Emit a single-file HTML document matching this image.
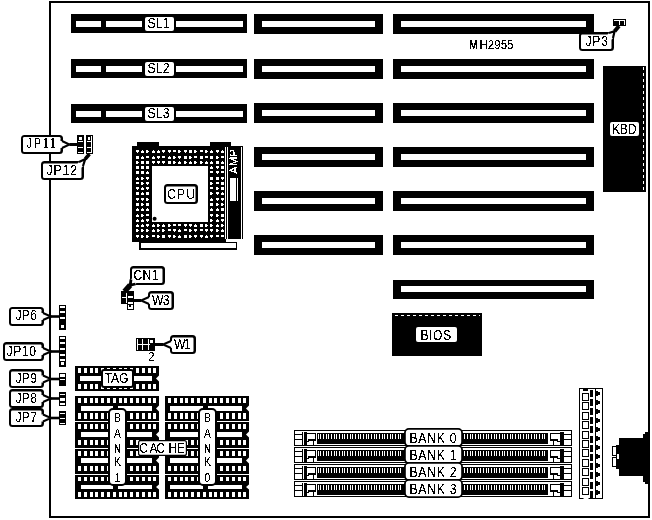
<!DOCTYPE html>
<html><head><meta charset="utf-8"><title>MH2955</title>
<style>
html,body{margin:0;padding:0;background:#fff;}
body{width:652px;height:520px;overflow:hidden;}
svg{display:block;will-change:transform;}
text{font-family:"Liberation Sans",sans-serif;filter:url(#bin);}
</style></head><body>
<svg width="652" height="520" viewBox="0 0 652 520" shape-rendering="crispEdges">
<defs><filter id="bin" x="-5%" y="-20%" width="110%" height="140%" color-interpolation-filters="sRGB"><feComponentTransfer><feFuncA type="discrete" tableValues="0 0 0 0 1 1 1 1 1"/></feComponentTransfer></filter></defs>
<rect x="0" y="0" width="652" height="520" fill="#fff"/>
<rect x="50" y="2" width="599" height="515" fill="#fff" stroke="#000" stroke-width="2"/>
<rect x="71" y="14" width="176" height="19" fill="#000"/>
<rect x="76" y="21" width="25" height="6" fill="#fff"/>
<rect x="106" y="21" width="36" height="6" fill="#fff"/>
<rect x="176" y="21" width="67" height="6" fill="#fff"/>
<rect x="145" y="17" width="29" height="14" rx="2" fill="#fff" shape-rendering="auto"/>
<text transform="translate(147.5 28) scale(0.84 1)" font-size="14.5" fill="#000" textLength="26.19" lengthAdjust="spacing">SL1</text>
<rect x="71" y="59" width="176" height="19" fill="#000"/>
<rect x="76" y="66" width="25" height="6" fill="#fff"/>
<rect x="106" y="66" width="36" height="6" fill="#fff"/>
<rect x="176" y="66" width="67" height="6" fill="#fff"/>
<rect x="145" y="62" width="29" height="14" rx="2" fill="#fff" shape-rendering="auto"/>
<text transform="translate(147.5 73) scale(0.84 1)" font-size="14.5" fill="#000" textLength="26.19" lengthAdjust="spacing">SL2</text>
<rect x="71" y="104" width="176" height="19" fill="#000"/>
<rect x="76" y="111" width="25" height="6" fill="#fff"/>
<rect x="106" y="111" width="36" height="6" fill="#fff"/>
<rect x="176" y="111" width="67" height="6" fill="#fff"/>
<rect x="145" y="107" width="29" height="14" rx="2" fill="#fff" shape-rendering="auto"/>
<text transform="translate(147.5 118) scale(0.84 1)" font-size="14.5" fill="#000" textLength="26.19" lengthAdjust="spacing">SL3</text>
<rect x="254" y="14" width="129" height="20" fill="#000"/>
<rect x="262" y="21" width="113" height="6" fill="#fff"/>
<rect x="254" y="59" width="129" height="20" fill="#000"/>
<rect x="262" y="66" width="113" height="6" fill="#fff"/>
<rect x="254" y="103" width="129" height="20" fill="#000"/>
<rect x="262" y="110" width="113" height="6" fill="#fff"/>
<rect x="254" y="147" width="129" height="20" fill="#000"/>
<rect x="262" y="154" width="113" height="6" fill="#fff"/>
<rect x="254" y="191" width="129" height="20" fill="#000"/>
<rect x="262" y="198" width="113" height="6" fill="#fff"/>
<rect x="254" y="235" width="129" height="20" fill="#000"/>
<rect x="262" y="242" width="113" height="6" fill="#fff"/>
<rect x="393" y="14" width="201" height="20" fill="#000"/>
<rect x="401" y="21" width="185" height="6" fill="#fff"/>
<rect x="393" y="59" width="201" height="20" fill="#000"/>
<rect x="401" y="66" width="185" height="6" fill="#fff"/>
<rect x="393" y="103" width="201" height="20" fill="#000"/>
<rect x="401" y="110" width="185" height="6" fill="#fff"/>
<rect x="393" y="147" width="201" height="20" fill="#000"/>
<rect x="401" y="154" width="185" height="6" fill="#fff"/>
<rect x="393" y="191" width="201" height="20" fill="#000"/>
<rect x="401" y="198" width="185" height="6" fill="#fff"/>
<rect x="393" y="235" width="201" height="20" fill="#000"/>
<rect x="401" y="242" width="185" height="6" fill="#fff"/>
<rect x="393" y="280" width="201" height="19" fill="#000"/>
<rect x="401" y="286" width="185" height="6" fill="#fff"/>
<text transform="translate(469.5 49) scale(0.78 1)" font-size="12.5" fill="#000" stroke="#000" stroke-width="0.4">M</text>
<text transform="translate(479.5 49) scale(0.92 1)" font-size="12.5" fill="#000" textLength="36.96" lengthAdjust="spacing">H2955</text>
<rect x="613" y="19" width="13" height="7" fill="#000"/>
<rect x="614" y="20" width="11" height="1" fill="#fff"/>
<rect x="619" y="20" width="1" height="5" fill="#fff"/>
<rect x="624" y="20" width="1" height="5" fill="#fff"/>
<rect x="579" y="32" width="35" height="19" rx="3.5" fill="#000" shape-rendering="auto"/>
<rect x="581" y="34.5" width="30.5" height="14.5" rx="1.2" fill="#fff" shape-rendering="auto"/>
<text transform="translate(585.5 46) scale(0.84 1)" font-size="14.5" fill="#000" textLength="26.79" lengthAdjust="spacing">JP3</text>
<path d="M608 31.5 L614.5 31.5 L614.5 38.5 Z" fill="#fff" shape-rendering="auto"/>
<path d="M607.454 34.8358 L609 33 L614.6 31.225 L613 38 L611.454 39.8358 Z" fill="#fff" shape-rendering="auto"/>
<path d="M609 33 L614.6 31.225 L613 38" fill="none" stroke="#000" stroke-width="2.2" stroke-linejoin="miter" shape-rendering="auto"/>
<path d="M614.6 31.225 L619 26" fill="none" stroke="#000" stroke-width="4" shape-rendering="auto"/>
<rect x="603" y="66" width="43" height="126" fill="#000"/>
<line x1="643.5" y1="67" x2="643.5" y2="191" stroke="#fff" stroke-width="1" stroke-dasharray="3 3"/>
<rect x="610" y="122" width="29" height="14" rx="2" fill="#fff" shape-rendering="auto"/>
<text transform="translate(612 134) scale(0.84 1)" font-size="14.5" fill="#000" textLength="29.17" lengthAdjust="spacing">KBD</text>
<rect x="137" y="142" width="22" height="5" fill="#000"/>
<rect x="210" y="142" width="21" height="5" fill="#000"/>
<rect x="132" y="146" width="94" height="96" fill="#000"/>
<rect x="226" y="146" width="17" height="93" fill="#000"/>
<rect x="225" y="147" width="1" height="92" fill="#fff"/>
<rect x="227" y="147" width="1" height="92" fill="#fff"/>
<rect x="241" y="147" width="1" height="92" fill="#fff"/>
<rect x="152" y="166" width="56" height="56" fill="#fff"/>
<rect x="136" y="150" width="3" height="2" fill="#fff"/>
<rect x="137" y="152" width="1" height="1" fill="#fff"/>
<rect x="141" y="151" width="3" height="2" fill="#fff"/>
<rect x="142" y="150" width="1" height="1" fill="#fff"/>
<rect x="146" y="150" width="2" height="3" fill="#fff"/>
<rect x="148" y="151" width="1" height="1" fill="#fff"/>
<rect x="152" y="151" width="3" height="2" fill="#fff"/>
<rect x="153" y="150" width="1" height="1" fill="#fff"/>
<rect x="157" y="151" width="3" height="2" fill="#fff"/>
<rect x="158" y="150" width="1" height="1" fill="#fff"/>
<rect x="162" y="150" width="3" height="2" fill="#fff"/>
<rect x="163" y="152" width="1" height="1" fill="#fff"/>
<rect x="168" y="150" width="3" height="2" fill="#fff"/>
<rect x="169" y="152" width="1" height="1" fill="#fff"/>
<rect x="173" y="150" width="3" height="2" fill="#fff"/>
<rect x="178" y="150" width="2" height="3" fill="#fff"/>
<rect x="180" y="151" width="1" height="1" fill="#fff"/>
<rect x="184" y="150" width="3" height="2" fill="#fff"/>
<rect x="185" y="152" width="1" height="1" fill="#fff"/>
<rect x="189" y="150" width="2.5" height="2.5" fill="#fff"/>
<rect x="194" y="150" width="2" height="3" fill="#fff"/>
<rect x="196" y="151" width="1" height="1" fill="#fff"/>
<rect x="200" y="150" width="3" height="2" fill="#fff"/>
<rect x="205" y="150" width="2" height="3" fill="#fff"/>
<rect x="207" y="151" width="1" height="1" fill="#fff"/>
<rect x="210" y="151" width="3" height="2" fill="#fff"/>
<rect x="211" y="150" width="1" height="1" fill="#fff"/>
<rect x="216" y="150" width="3" height="2" fill="#fff"/>
<rect x="217" y="152" width="1" height="1" fill="#fff"/>
<rect x="221" y="151" width="3" height="2" fill="#fff"/>
<rect x="222" y="150" width="1" height="1" fill="#fff"/>
<rect x="136" y="156" width="2.5" height="2.5" fill="#fff"/>
<rect x="141" y="157" width="3" height="2" fill="#fff"/>
<rect x="142" y="156" width="1" height="1" fill="#fff"/>
<rect x="146" y="156" width="3" height="2" fill="#fff"/>
<rect x="152" y="157" width="3" height="2" fill="#fff"/>
<rect x="153" y="156" width="1" height="1" fill="#fff"/>
<rect x="157" y="156" width="3" height="2" fill="#fff"/>
<rect x="158" y="158" width="1" height="1" fill="#fff"/>
<rect x="162" y="156" width="3" height="2" fill="#fff"/>
<rect x="168" y="157" width="3" height="2" fill="#fff"/>
<rect x="169" y="156" width="1" height="1" fill="#fff"/>
<rect x="173" y="156" width="2" height="3" fill="#fff"/>
<rect x="175" y="157" width="1" height="1" fill="#fff"/>
<rect x="178" y="156" width="3" height="2" fill="#fff"/>
<rect x="179" y="158" width="1" height="1" fill="#fff"/>
<rect x="184" y="156" width="2.5" height="2.5" fill="#fff"/>
<rect x="189" y="156" width="2" height="3" fill="#fff"/>
<rect x="191" y="157" width="1" height="1" fill="#fff"/>
<rect x="194" y="156" width="3" height="2" fill="#fff"/>
<rect x="200" y="156" width="2.5" height="2.5" fill="#fff"/>
<rect x="205" y="156" width="3" height="2" fill="#fff"/>
<rect x="210" y="156" width="2.5" height="2.5" fill="#fff"/>
<rect x="216" y="156" width="2" height="3" fill="#fff"/>
<rect x="218" y="157" width="1" height="1" fill="#fff"/>
<rect x="221" y="156" width="3" height="2" fill="#fff"/>
<rect x="136" y="161" width="2" height="3" fill="#fff"/>
<rect x="138" y="162" width="1" height="1" fill="#fff"/>
<rect x="141" y="161" width="2.5" height="2.5" fill="#fff"/>
<rect x="146" y="161" width="2.5" height="2.5" fill="#fff"/>
<rect x="152" y="161" width="3" height="2" fill="#fff"/>
<rect x="153" y="163" width="1" height="1" fill="#fff"/>
<rect x="157" y="161" width="3" height="2" fill="#fff"/>
<rect x="158" y="163" width="1" height="1" fill="#fff"/>
<rect x="162" y="161" width="3" height="2" fill="#fff"/>
<rect x="163" y="163" width="1" height="1" fill="#fff"/>
<rect x="168" y="161" width="2.5" height="2.5" fill="#fff"/>
<rect x="173" y="161" width="2" height="3" fill="#fff"/>
<rect x="175" y="162" width="1" height="1" fill="#fff"/>
<rect x="178" y="162" width="3" height="2" fill="#fff"/>
<rect x="179" y="161" width="1" height="1" fill="#fff"/>
<rect x="184" y="161" width="2" height="3" fill="#fff"/>
<rect x="186" y="162" width="1" height="1" fill="#fff"/>
<rect x="189" y="162" width="3" height="2" fill="#fff"/>
<rect x="190" y="161" width="1" height="1" fill="#fff"/>
<rect x="194" y="161" width="2" height="3" fill="#fff"/>
<rect x="196" y="162" width="1" height="1" fill="#fff"/>
<rect x="200" y="161" width="2" height="3" fill="#fff"/>
<rect x="202" y="162" width="1" height="1" fill="#fff"/>
<rect x="205" y="162" width="3" height="2" fill="#fff"/>
<rect x="206" y="161" width="1" height="1" fill="#fff"/>
<rect x="210" y="162" width="3" height="2" fill="#fff"/>
<rect x="211" y="161" width="1" height="1" fill="#fff"/>
<rect x="216" y="161" width="2.5" height="2.5" fill="#fff"/>
<rect x="221" y="162" width="3" height="2" fill="#fff"/>
<rect x="222" y="161" width="1" height="1" fill="#fff"/>
<rect x="136" y="166" width="2.5" height="2.5" fill="#fff"/>
<rect x="141" y="166" width="2.5" height="2.5" fill="#fff"/>
<rect x="146" y="166" width="2.5" height="2.5" fill="#fff"/>
<rect x="210" y="167" width="3" height="2" fill="#fff"/>
<rect x="211" y="166" width="1" height="1" fill="#fff"/>
<rect x="216" y="166" width="3" height="2" fill="#fff"/>
<rect x="217" y="168" width="1" height="1" fill="#fff"/>
<rect x="221" y="166" width="2.5" height="2.5" fill="#fff"/>
<rect x="136" y="171" width="2.5" height="2.5" fill="#fff"/>
<rect x="141" y="171" width="2.5" height="2.5" fill="#fff"/>
<rect x="146" y="172" width="3" height="2" fill="#fff"/>
<rect x="147" y="171" width="1" height="1" fill="#fff"/>
<rect x="210" y="171" width="3" height="2" fill="#fff"/>
<rect x="216" y="171" width="3" height="2" fill="#fff"/>
<rect x="217" y="173" width="1" height="1" fill="#fff"/>
<rect x="221" y="171" width="3" height="2" fill="#fff"/>
<rect x="136" y="178" width="3" height="2" fill="#fff"/>
<rect x="137" y="177" width="1" height="1" fill="#fff"/>
<rect x="141" y="177" width="2" height="3" fill="#fff"/>
<rect x="143" y="178" width="1" height="1" fill="#fff"/>
<rect x="146" y="177" width="3" height="2" fill="#fff"/>
<rect x="147" y="179" width="1" height="1" fill="#fff"/>
<rect x="210" y="177" width="2.5" height="2.5" fill="#fff"/>
<rect x="216" y="177" width="2.5" height="2.5" fill="#fff"/>
<rect x="221" y="177" width="3" height="2" fill="#fff"/>
<rect x="222" y="179" width="1" height="1" fill="#fff"/>
<rect x="136" y="182" width="3" height="2" fill="#fff"/>
<rect x="141" y="182" width="2" height="3" fill="#fff"/>
<rect x="143" y="183" width="1" height="1" fill="#fff"/>
<rect x="146" y="182" width="3" height="2" fill="#fff"/>
<rect x="147" y="184" width="1" height="1" fill="#fff"/>
<rect x="210" y="182" width="2" height="3" fill="#fff"/>
<rect x="212" y="183" width="1" height="1" fill="#fff"/>
<rect x="216" y="182" width="3" height="2" fill="#fff"/>
<rect x="221" y="182" width="2.5" height="2.5" fill="#fff"/>
<rect x="136" y="187" width="3" height="2" fill="#fff"/>
<rect x="137" y="189" width="1" height="1" fill="#fff"/>
<rect x="141" y="188" width="3" height="2" fill="#fff"/>
<rect x="142" y="187" width="1" height="1" fill="#fff"/>
<rect x="146" y="187" width="3" height="2" fill="#fff"/>
<rect x="147" y="189" width="1" height="1" fill="#fff"/>
<rect x="210" y="187" width="3" height="2" fill="#fff"/>
<rect x="216" y="187" width="2" height="3" fill="#fff"/>
<rect x="218" y="188" width="1" height="1" fill="#fff"/>
<rect x="221" y="187" width="2.5" height="2.5" fill="#fff"/>
<rect x="136" y="192" width="2.5" height="2.5" fill="#fff"/>
<rect x="141" y="193" width="3" height="2" fill="#fff"/>
<rect x="142" y="192" width="1" height="1" fill="#fff"/>
<rect x="146" y="192" width="2.5" height="2.5" fill="#fff"/>
<rect x="210" y="192" width="2" height="3" fill="#fff"/>
<rect x="212" y="193" width="1" height="1" fill="#fff"/>
<rect x="216" y="192" width="3" height="2" fill="#fff"/>
<rect x="217" y="194" width="1" height="1" fill="#fff"/>
<rect x="221" y="193" width="3" height="2" fill="#fff"/>
<rect x="222" y="192" width="1" height="1" fill="#fff"/>
<rect x="136" y="198" width="3" height="2" fill="#fff"/>
<rect x="137" y="200" width="1" height="1" fill="#fff"/>
<rect x="141" y="198" width="3" height="2" fill="#fff"/>
<rect x="142" y="200" width="1" height="1" fill="#fff"/>
<rect x="146" y="198" width="2" height="3" fill="#fff"/>
<rect x="148" y="199" width="1" height="1" fill="#fff"/>
<rect x="210" y="199" width="3" height="2" fill="#fff"/>
<rect x="211" y="198" width="1" height="1" fill="#fff"/>
<rect x="216" y="198" width="3" height="2" fill="#fff"/>
<rect x="217" y="200" width="1" height="1" fill="#fff"/>
<rect x="221" y="198" width="3" height="2" fill="#fff"/>
<rect x="222" y="200" width="1" height="1" fill="#fff"/>
<rect x="136" y="203" width="2.5" height="2.5" fill="#fff"/>
<rect x="141" y="203" width="2" height="3" fill="#fff"/>
<rect x="143" y="204" width="1" height="1" fill="#fff"/>
<rect x="146" y="203" width="2.5" height="2.5" fill="#fff"/>
<rect x="210" y="203" width="2.5" height="2.5" fill="#fff"/>
<rect x="216" y="203" width="2" height="3" fill="#fff"/>
<rect x="218" y="204" width="1" height="1" fill="#fff"/>
<rect x="221" y="203" width="2" height="3" fill="#fff"/>
<rect x="223" y="204" width="1" height="1" fill="#fff"/>
<rect x="136" y="209" width="3" height="2" fill="#fff"/>
<rect x="137" y="208" width="1" height="1" fill="#fff"/>
<rect x="141" y="209" width="3" height="2" fill="#fff"/>
<rect x="142" y="208" width="1" height="1" fill="#fff"/>
<rect x="146" y="209" width="3" height="2" fill="#fff"/>
<rect x="147" y="208" width="1" height="1" fill="#fff"/>
<rect x="210" y="209" width="3" height="2" fill="#fff"/>
<rect x="211" y="208" width="1" height="1" fill="#fff"/>
<rect x="216" y="209" width="3" height="2" fill="#fff"/>
<rect x="217" y="208" width="1" height="1" fill="#fff"/>
<rect x="221" y="208" width="2.5" height="2.5" fill="#fff"/>
<rect x="136" y="215" width="3" height="2" fill="#fff"/>
<rect x="137" y="214" width="1" height="1" fill="#fff"/>
<rect x="141" y="214" width="2" height="3" fill="#fff"/>
<rect x="143" y="215" width="1" height="1" fill="#fff"/>
<rect x="146" y="214" width="3" height="2" fill="#fff"/>
<rect x="210" y="214" width="3" height="2" fill="#fff"/>
<rect x="211" y="216" width="1" height="1" fill="#fff"/>
<rect x="216" y="214" width="2" height="3" fill="#fff"/>
<rect x="218" y="215" width="1" height="1" fill="#fff"/>
<rect x="221" y="214" width="2.5" height="2.5" fill="#fff"/>
<rect x="136" y="220" width="3" height="2" fill="#fff"/>
<rect x="137" y="219" width="1" height="1" fill="#fff"/>
<rect x="141" y="220" width="3" height="2" fill="#fff"/>
<rect x="142" y="219" width="1" height="1" fill="#fff"/>
<rect x="146" y="219" width="3" height="2" fill="#fff"/>
<rect x="147" y="221" width="1" height="1" fill="#fff"/>
<rect x="210" y="219" width="2" height="3" fill="#fff"/>
<rect x="212" y="220" width="1" height="1" fill="#fff"/>
<rect x="216" y="220" width="3" height="2" fill="#fff"/>
<rect x="217" y="219" width="1" height="1" fill="#fff"/>
<rect x="221" y="219" width="3" height="2" fill="#fff"/>
<rect x="222" y="221" width="1" height="1" fill="#fff"/>
<rect x="136" y="225" width="3" height="2" fill="#fff"/>
<rect x="137" y="224" width="1" height="1" fill="#fff"/>
<rect x="141" y="225" width="3" height="2" fill="#fff"/>
<rect x="142" y="224" width="1" height="1" fill="#fff"/>
<rect x="146" y="224" width="3" height="2" fill="#fff"/>
<rect x="147" y="226" width="1" height="1" fill="#fff"/>
<rect x="152" y="225" width="3" height="2" fill="#fff"/>
<rect x="153" y="224" width="1" height="1" fill="#fff"/>
<rect x="157" y="224" width="2" height="3" fill="#fff"/>
<rect x="159" y="225" width="1" height="1" fill="#fff"/>
<rect x="162" y="225" width="3" height="2" fill="#fff"/>
<rect x="163" y="224" width="1" height="1" fill="#fff"/>
<rect x="168" y="224" width="2" height="3" fill="#fff"/>
<rect x="170" y="225" width="1" height="1" fill="#fff"/>
<rect x="173" y="224" width="3" height="2" fill="#fff"/>
<rect x="178" y="224" width="3" height="2" fill="#fff"/>
<rect x="184" y="224" width="3" height="2" fill="#fff"/>
<rect x="185" y="226" width="1" height="1" fill="#fff"/>
<rect x="189" y="224" width="3" height="2" fill="#fff"/>
<rect x="190" y="226" width="1" height="1" fill="#fff"/>
<rect x="194" y="225" width="3" height="2" fill="#fff"/>
<rect x="195" y="224" width="1" height="1" fill="#fff"/>
<rect x="200" y="224" width="2.5" height="2.5" fill="#fff"/>
<rect x="205" y="224" width="2" height="3" fill="#fff"/>
<rect x="207" y="225" width="1" height="1" fill="#fff"/>
<rect x="210" y="224" width="2" height="3" fill="#fff"/>
<rect x="212" y="225" width="1" height="1" fill="#fff"/>
<rect x="216" y="225" width="3" height="2" fill="#fff"/>
<rect x="217" y="224" width="1" height="1" fill="#fff"/>
<rect x="221" y="224" width="2" height="3" fill="#fff"/>
<rect x="223" y="225" width="1" height="1" fill="#fff"/>
<rect x="136" y="229" width="2" height="3" fill="#fff"/>
<rect x="138" y="230" width="1" height="1" fill="#fff"/>
<rect x="141" y="229" width="2" height="3" fill="#fff"/>
<rect x="143" y="230" width="1" height="1" fill="#fff"/>
<rect x="146" y="229" width="2" height="3" fill="#fff"/>
<rect x="148" y="230" width="1" height="1" fill="#fff"/>
<rect x="152" y="230" width="3" height="2" fill="#fff"/>
<rect x="153" y="229" width="1" height="1" fill="#fff"/>
<rect x="157" y="229" width="2" height="3" fill="#fff"/>
<rect x="159" y="230" width="1" height="1" fill="#fff"/>
<rect x="162" y="229" width="2" height="3" fill="#fff"/>
<rect x="164" y="230" width="1" height="1" fill="#fff"/>
<rect x="168" y="229" width="3" height="2" fill="#fff"/>
<rect x="173" y="229" width="3" height="2" fill="#fff"/>
<rect x="174" y="231" width="1" height="1" fill="#fff"/>
<rect x="178" y="230" width="3" height="2" fill="#fff"/>
<rect x="179" y="229" width="1" height="1" fill="#fff"/>
<rect x="184" y="229" width="3" height="2" fill="#fff"/>
<rect x="189" y="229" width="2" height="3" fill="#fff"/>
<rect x="191" y="230" width="1" height="1" fill="#fff"/>
<rect x="194" y="229" width="3" height="2" fill="#fff"/>
<rect x="195" y="231" width="1" height="1" fill="#fff"/>
<rect x="200" y="229" width="3" height="2" fill="#fff"/>
<rect x="205" y="229" width="3" height="2" fill="#fff"/>
<rect x="206" y="231" width="1" height="1" fill="#fff"/>
<rect x="210" y="229" width="3" height="2" fill="#fff"/>
<rect x="211" y="231" width="1" height="1" fill="#fff"/>
<rect x="216" y="229" width="2" height="3" fill="#fff"/>
<rect x="218" y="230" width="1" height="1" fill="#fff"/>
<rect x="221" y="230" width="3" height="2" fill="#fff"/>
<rect x="222" y="229" width="1" height="1" fill="#fff"/>
<rect x="136" y="235" width="3" height="2" fill="#fff"/>
<rect x="137" y="237" width="1" height="1" fill="#fff"/>
<rect x="141" y="235" width="2" height="3" fill="#fff"/>
<rect x="143" y="236" width="1" height="1" fill="#fff"/>
<rect x="146" y="235" width="2" height="3" fill="#fff"/>
<rect x="148" y="236" width="1" height="1" fill="#fff"/>
<rect x="152" y="235" width="3" height="2" fill="#fff"/>
<rect x="157" y="235" width="2" height="3" fill="#fff"/>
<rect x="159" y="236" width="1" height="1" fill="#fff"/>
<rect x="162" y="235" width="2.5" height="2.5" fill="#fff"/>
<rect x="168" y="235" width="3" height="2" fill="#fff"/>
<rect x="169" y="237" width="1" height="1" fill="#fff"/>
<rect x="173" y="235" width="2" height="3" fill="#fff"/>
<rect x="175" y="236" width="1" height="1" fill="#fff"/>
<rect x="178" y="236" width="3" height="2" fill="#fff"/>
<rect x="179" y="235" width="1" height="1" fill="#fff"/>
<rect x="184" y="235" width="2.5" height="2.5" fill="#fff"/>
<rect x="189" y="235" width="2" height="3" fill="#fff"/>
<rect x="191" y="236" width="1" height="1" fill="#fff"/>
<rect x="194" y="235" width="3" height="2" fill="#fff"/>
<rect x="195" y="237" width="1" height="1" fill="#fff"/>
<rect x="200" y="235" width="3" height="2" fill="#fff"/>
<rect x="201" y="237" width="1" height="1" fill="#fff"/>
<rect x="205" y="236" width="3" height="2" fill="#fff"/>
<rect x="206" y="235" width="1" height="1" fill="#fff"/>
<rect x="210" y="235" width="3" height="2" fill="#fff"/>
<rect x="211" y="237" width="1" height="1" fill="#fff"/>
<rect x="216" y="235" width="3" height="2" fill="#fff"/>
<rect x="221" y="235" width="3" height="2" fill="#fff"/>
<circle cx="154.6" cy="218.7" r="2" fill="#000" shape-rendering="auto"/>
<rect x="230" y="178" width="8" height="23" fill="#fff"/>
<rect x="236" y="178" width="1" height="23" fill="#000"/>
<text transform="translate(237.5,174) rotate(-90)" font-size="10" fill="#fff" style="stroke:none" textLength="25" lengthAdjust="spacingAndGlyphs">AMP</text>
<rect x="139" y="242" width="98" height="8" fill="#000"/>
<rect x="141" y="243" width="95" height="5" fill="#fff"/>
<rect x="164" y="184" width="34" height="20" rx="3.5" fill="#000" shape-rendering="auto"/>
<rect x="166" y="186.5" width="29.5" height="15.5" rx="1.2" fill="#fff" shape-rendering="auto"/>
<text transform="translate(167 199) scale(0.84 1)" font-size="14.5" fill="#000" textLength="33.33" lengthAdjust="spacing">CPU</text>
<rect x="77" y="135" width="7" height="19" fill="#000"/>
<rect x="79" y="137" width="3" height="3" fill="#fff"/>
<rect x="78" y="141" width="5" height="1" fill="#fff"/>
<rect x="78" y="147" width="5" height="1" fill="#fff"/>
<rect x="78" y="152" width="5" height="1" fill="#fff"/>
<rect x="86" y="135" width="7" height="19" fill="#000"/>
<rect x="88" y="137" width="2" height="3" fill="#fff"/>
<rect x="91" y="136" width="1" height="17" fill="#fff"/>
<rect x="87" y="141" width="4" height="1" fill="#fff"/>
<rect x="87" y="147" width="4" height="1" fill="#fff"/>
<rect x="87" y="152" width="5" height="1" fill="#fff"/>
<rect x="21" y="135" width="42" height="19" rx="3.5" fill="#000" shape-rendering="auto"/>
<rect x="23" y="137" width="37.5" height="15" rx="1.2" fill="#fff" shape-rendering="auto"/>
<text transform="translate(26.5 148) scale(0.76 1)" font-size="14.5" fill="#000" textLength="38.82" lengthAdjust="spacing">JP11</text>
<path d="M59.6 141 L62 141 L69.5 144.5 L62 148 L59.6 148 Z" fill="#fff" shape-rendering="auto"/>
<path d="M62 141 L69.5 144.5 L62 148" fill="none" stroke="#000" stroke-width="2" stroke-linejoin="miter" shape-rendering="auto"/>
<path d="M69.5 144.5 L77 144.5" fill="none" stroke="#000" stroke-width="3" shape-rendering="auto"/>
<rect x="41" y="161" width="43" height="19" rx="3.5" fill="#000" shape-rendering="auto"/>
<rect x="43" y="163.5" width="38.5" height="14.5" rx="1.2" fill="#fff" shape-rendering="auto"/>
<text transform="translate(46.5 175) scale(0.84 1)" font-size="14.5" fill="#000" textLength="36.31" lengthAdjust="spacing">JP12</text>
<path d="M78 160.5 L84.5 160.5 L84.5 167 Z" fill="#fff" shape-rendering="auto"/>
<path d="M77.4456 163.829 L79 162 L85.25 159 L83 166 L81.4456 167.829 Z" fill="#fff" shape-rendering="auto"/>
<path d="M79 162 L85.25 159 L83 166" fill="none" stroke="#000" stroke-width="2.2" stroke-linejoin="miter" shape-rendering="auto"/>
<path d="M85.25 159 L89.5 154" fill="none" stroke="#000" stroke-width="3.5" shape-rendering="auto"/>
<rect x="59" y="305" width="7" height="25" fill="#000"/>
<rect x="60" y="306" width="5" height="1.5" fill="#fff"/>
<rect x="60" y="311" width="5" height="2" fill="#fff"/>
<rect x="60" y="317" width="5" height="1.5" fill="#fff"/>
<rect x="61" y="325" width="3" height="3" fill="#fff"/>
<rect x="59" y="336" width="7" height="31" fill="#000"/>
<rect x="60" y="337" width="5" height="1.5" fill="#fff"/>
<rect x="60" y="342" width="5" height="2" fill="#fff"/>
<rect x="60" y="348" width="5" height="1.5" fill="#fff"/>
<rect x="60" y="354" width="5" height="1.5" fill="#fff"/>
<rect x="60" y="359" width="5" height="1.5" fill="#fff"/>
<rect x="61" y="362" width="3" height="3" fill="#fff"/>
<rect x="59" y="373" width="7" height="13" fill="#000"/>
<rect x="60" y="374" width="5" height="2.5" fill="#fff"/>
<rect x="60" y="379" width="5" height="1" fill="#fff"/>
<rect x="59" y="392" width="7" height="14" fill="#000"/>
<rect x="60" y="393.5" width="5" height="1.5" fill="#fff"/>
<rect x="60" y="397.5" width="5" height="3" fill="#fff"/>
<rect x="60" y="403" width="5" height="1.5" fill="#fff"/>
<rect x="59" y="411" width="7" height="14" fill="#000"/>
<rect x="60" y="412.5" width="5" height="1.5" fill="#fff"/>
<rect x="60" y="417.5" width="5" height="1.5" fill="#fff"/>
<rect x="60" y="422.5" width="5" height="1" fill="#fff"/>
<rect x="9" y="307" width="35" height="19" rx="3.5" fill="#000" shape-rendering="auto"/>
<rect x="11" y="309" width="30.5" height="15" rx="1.2" fill="#fff" shape-rendering="auto"/>
<text transform="translate(15.5 320) scale(0.84 1)" font-size="14.5" fill="#000" textLength="25.60" lengthAdjust="spacing">JP6</text>
<path d="M40.6 313 L43 313 L51 316.5 L43 320 L40.6 320 Z" fill="#fff" shape-rendering="auto"/>
<path d="M43 313 L51 316.5 L43 320" fill="none" stroke="#000" stroke-width="2" stroke-linejoin="miter" shape-rendering="auto"/>
<path d="M51 316.5 L59 316.5" fill="none" stroke="#000" stroke-width="2.6" shape-rendering="auto"/>
<rect x="49" y="311.5" width="2" height="10" fill="#000"/>
<rect x="3" y="342" width="41" height="19" rx="3.5" fill="#000" shape-rendering="auto"/>
<rect x="5" y="344.5" width="36.5" height="14.5" rx="1.2" fill="#fff" shape-rendering="auto"/>
<text transform="translate(6.5 355.5) scale(0.84 1)" font-size="14.5" fill="#000" textLength="35.12" lengthAdjust="spacing">JP10</text>
<path d="M40.6 348 L43 348 L51 351.5 L43 355 L40.6 355 Z" fill="#fff" shape-rendering="auto"/>
<path d="M43 348 L51 351.5 L43 355" fill="none" stroke="#000" stroke-width="2" stroke-linejoin="miter" shape-rendering="auto"/>
<path d="M51 351.5 L59 351.5" fill="none" stroke="#000" stroke-width="2.6" shape-rendering="auto"/>
<rect x="49" y="346.5" width="2" height="10" fill="#000"/>
<rect x="9" y="369" width="35" height="19" rx="3.5" fill="#000" shape-rendering="auto"/>
<rect x="11" y="371.5" width="30.5" height="14.5" rx="1.2" fill="#fff" shape-rendering="auto"/>
<text transform="translate(15.5 382.5) scale(0.84 1)" font-size="14.5" fill="#000" textLength="25.60" lengthAdjust="spacing">JP9</text>
<path d="M40.6 375.5 L43 375.5 L51 379 L43 382.5 L40.6 382.5 Z" fill="#fff" shape-rendering="auto"/>
<path d="M43 375.5 L51 379 L43 382.5" fill="none" stroke="#000" stroke-width="2" stroke-linejoin="miter" shape-rendering="auto"/>
<path d="M51 379 L59 379" fill="none" stroke="#000" stroke-width="2.6" shape-rendering="auto"/>
<rect x="49" y="374" width="2" height="10" fill="#000"/>
<rect x="9" y="389" width="35" height="19" rx="3.5" fill="#000" shape-rendering="auto"/>
<rect x="11" y="391.5" width="30.5" height="14.5" rx="1.2" fill="#fff" shape-rendering="auto"/>
<text transform="translate(15.5 402.5) scale(0.84 1)" font-size="14.5" fill="#000" textLength="25.60" lengthAdjust="spacing">JP8</text>
<path d="M40.6 395 L43 395 L51 398.5 L43 402 L40.6 402 Z" fill="#fff" shape-rendering="auto"/>
<path d="M43 395 L51 398.5 L43 402" fill="none" stroke="#000" stroke-width="2" stroke-linejoin="miter" shape-rendering="auto"/>
<path d="M51 398.5 L59 398.5" fill="none" stroke="#000" stroke-width="2.6" shape-rendering="auto"/>
<rect x="49" y="393.5" width="2" height="10" fill="#000"/>
<rect x="9" y="408" width="35" height="19" rx="3.5" fill="#000" shape-rendering="auto"/>
<rect x="11" y="410.5" width="30.5" height="14.5" rx="1.2" fill="#fff" shape-rendering="auto"/>
<text transform="translate(15.5 421.5) scale(0.84 1)" font-size="14.5" fill="#000" textLength="25.60" lengthAdjust="spacing">JP7</text>
<path d="M40.6 414.5 L43 414.5 L51 418 L43 421.5 L40.6 421.5 Z" fill="#fff" shape-rendering="auto"/>
<path d="M43 414.5 L51 418 L43 421.5" fill="none" stroke="#000" stroke-width="2" stroke-linejoin="miter" shape-rendering="auto"/>
<path d="M51 418 L59 418" fill="none" stroke="#000" stroke-width="2.6" shape-rendering="auto"/>
<rect x="49" y="413" width="2" height="10" fill="#000"/>
<rect x="121" y="291" width="7" height="13" fill="#000"/>
<rect x="122" y="297" width="5" height="1" fill="#fff"/>
<rect x="126" y="292" width="1" height="11" fill="#fff"/>
<rect x="127" y="291" width="7" height="19" fill="#000"/>
<rect x="128" y="296" width="4.5" height="2" fill="#fff"/>
<rect x="128" y="302" width="4.5" height="1.6" fill="#fff"/>
<rect x="128" y="304.6" width="4.5" height="4.4" fill="#fff"/>
<rect x="129" y="305.4" width="2.4" height="2" fill="#000"/>
<rect x="130" y="266" width="35" height="19" rx="3.5" fill="#000" shape-rendering="auto"/>
<rect x="132" y="268.5" width="30.5" height="14.5" rx="1.2" fill="#fff" shape-rendering="auto"/>
<text transform="translate(133.5 280) scale(0.84 1)" font-size="14.5" fill="#000" textLength="29.76" lengthAdjust="spacing">CN1</text>
<path d="M129.5 279 L129.5 285.5 L136.5 285.5 Z" fill="#fff" shape-rendering="auto"/>
<path d="M132.603 277.714 L131 279.5 L130.188 285.163 L135.5 284 L137.103 282.214 Z" fill="#fff" shape-rendering="auto"/>
<path d="M131 279.5 L130.188 285.163 L135.5 284" fill="none" stroke="#000" stroke-width="2.8" stroke-linejoin="miter" shape-rendering="auto"/>
<path d="M130.188 285.163 L124.5 291.5" fill="none" stroke="#000" stroke-width="5.5" shape-rendering="auto"/>
<rect x="148" y="291" width="26" height="19" rx="3.5" fill="#000" shape-rendering="auto"/>
<rect x="150" y="293.5" width="21.5" height="14.5" rx="1.2" fill="#fff" shape-rendering="auto"/>
<text transform="translate(152 304.5) scale(0.84 1)" font-size="14.5" fill="#000" textLength="20.83" lengthAdjust="spacing">W3</text>
<path d="M151.4 297 L149 297 L141 300.5 L149 304 L151.4 304 Z" fill="#fff" shape-rendering="auto"/>
<path d="M149 297 L141 300.5 L149 304" fill="none" stroke="#000" stroke-width="2" stroke-linejoin="miter" shape-rendering="auto"/>
<path d="M141 300.5 L133 300.5" fill="none" stroke="#000" stroke-width="3" shape-rendering="auto"/>
<rect x="136" y="338" width="19" height="13" fill="#000"/>
<rect x="137" y="339" width="1" height="11" fill="#fff"/>
<rect x="142" y="339" width="1.4" height="11" fill="#fff"/>
<rect x="148" y="339" width="1" height="11" fill="#fff"/>
<rect x="137" y="344" width="13" height="1" fill="#fff"/>
<rect x="150" y="340" width="3" height="3" fill="#fff"/>
<rect x="170" y="335" width="26" height="19" rx="3.5" fill="#000" shape-rendering="auto"/>
<rect x="172" y="337.5" width="21.5" height="14.5" rx="1.2" fill="#fff" shape-rendering="auto"/>
<text transform="translate(174 349) scale(0.84 1)" font-size="14.5" fill="#000" textLength="19.64" lengthAdjust="spacing">W1</text>
<path d="M173.4 341 L171 341 L163 344.5 L171 348 L173.4 348 Z" fill="#fff" shape-rendering="auto"/>
<path d="M171 341 L163 344.5 L171 348" fill="none" stroke="#000" stroke-width="2" stroke-linejoin="miter" shape-rendering="auto"/>
<path d="M163 344.5 L155 344.5" fill="none" stroke="#000" stroke-width="3" shape-rendering="auto"/>
<text transform="translate(148.5 361) scale(0.84 1)" font-size="12.5" fill="#000">2</text>
<rect x="75" y="366" width="84" height="25" fill="#000"/>
<rect x="78" y="368" width="3" height="5" fill="#fff"/>
<rect x="78" y="384" width="3" height="5" fill="#fff"/>
<rect x="84" y="368" width="3" height="5" fill="#fff"/>
<rect x="84" y="384" width="3" height="5" fill="#fff"/>
<rect x="90" y="368" width="3" height="5" fill="#fff"/>
<rect x="90" y="384" width="3" height="5" fill="#fff"/>
<rect x="95" y="368" width="3" height="5" fill="#fff"/>
<rect x="95" y="384" width="3" height="5" fill="#fff"/>
<rect x="101" y="368" width="3" height="5" fill="#fff"/>
<rect x="101" y="384" width="3" height="5" fill="#fff"/>
<rect x="107" y="368" width="3" height="5" fill="#fff"/>
<rect x="107" y="384" width="3" height="5" fill="#fff"/>
<rect x="113" y="368" width="3" height="5" fill="#fff"/>
<rect x="113" y="384" width="3" height="5" fill="#fff"/>
<rect x="119" y="368" width="3" height="5" fill="#fff"/>
<rect x="119" y="384" width="3" height="5" fill="#fff"/>
<rect x="124" y="368" width="3" height="5" fill="#fff"/>
<rect x="124" y="384" width="3" height="5" fill="#fff"/>
<rect x="130" y="368" width="3" height="5" fill="#fff"/>
<rect x="130" y="384" width="3" height="5" fill="#fff"/>
<rect x="136" y="368" width="3" height="5" fill="#fff"/>
<rect x="136" y="384" width="3" height="5" fill="#fff"/>
<rect x="142" y="368" width="3" height="5" fill="#fff"/>
<rect x="142" y="384" width="3" height="5" fill="#fff"/>
<rect x="148" y="368" width="3" height="5" fill="#fff"/>
<rect x="148" y="384" width="3" height="5" fill="#fff"/>
<rect x="153" y="368" width="3" height="5" fill="#fff"/>
<rect x="153" y="384" width="3" height="5" fill="#fff"/>
<rect x="80" y="376" width="72" height="5" fill="#fff"/>
<path d="M159 375.5 L156 378.5 L159 381.5 Z" fill="#fff" shape-rendering="auto"/>
<rect x="75" y="396" width="84" height="25" fill="#000"/>
<rect x="78" y="398" width="3" height="5" fill="#fff"/>
<rect x="78" y="413" width="3" height="6" fill="#fff"/>
<rect x="84" y="398" width="3" height="5" fill="#fff"/>
<rect x="84" y="413" width="3" height="6" fill="#fff"/>
<rect x="90" y="398" width="3" height="5" fill="#fff"/>
<rect x="90" y="413" width="3" height="6" fill="#fff"/>
<rect x="95" y="398" width="3" height="5" fill="#fff"/>
<rect x="95" y="413" width="3" height="6" fill="#fff"/>
<rect x="101" y="398" width="3" height="5" fill="#fff"/>
<rect x="101" y="413" width="3" height="6" fill="#fff"/>
<rect x="107" y="398" width="3" height="5" fill="#fff"/>
<rect x="107" y="413" width="3" height="6" fill="#fff"/>
<rect x="113" y="398" width="3" height="5" fill="#fff"/>
<rect x="113" y="413" width="3" height="6" fill="#fff"/>
<rect x="119" y="398" width="3" height="5" fill="#fff"/>
<rect x="119" y="413" width="3" height="6" fill="#fff"/>
<rect x="124" y="398" width="3" height="5" fill="#fff"/>
<rect x="124" y="413" width="3" height="6" fill="#fff"/>
<rect x="130" y="398" width="3" height="5" fill="#fff"/>
<rect x="130" y="413" width="3" height="6" fill="#fff"/>
<rect x="136" y="398" width="3" height="5" fill="#fff"/>
<rect x="136" y="413" width="3" height="6" fill="#fff"/>
<rect x="142" y="398" width="3" height="5" fill="#fff"/>
<rect x="142" y="413" width="3" height="6" fill="#fff"/>
<rect x="148" y="398" width="3" height="5" fill="#fff"/>
<rect x="148" y="413" width="3" height="6" fill="#fff"/>
<rect x="153" y="398" width="3" height="5" fill="#fff"/>
<rect x="153" y="413" width="3" height="6" fill="#fff"/>
<rect x="81" y="406" width="71" height="5" fill="#fff"/>
<path d="M159 405.5 L156 408.5 L159 411.5 Z" fill="#fff" shape-rendering="auto"/>
<rect x="165" y="396" width="84" height="25" fill="#000"/>
<rect x="168" y="398" width="3" height="5" fill="#fff"/>
<rect x="168" y="413" width="3" height="6" fill="#fff"/>
<rect x="174" y="398" width="3" height="5" fill="#fff"/>
<rect x="174" y="413" width="3" height="6" fill="#fff"/>
<rect x="180" y="398" width="3" height="5" fill="#fff"/>
<rect x="180" y="413" width="3" height="6" fill="#fff"/>
<rect x="185" y="398" width="3" height="5" fill="#fff"/>
<rect x="185" y="413" width="3" height="6" fill="#fff"/>
<rect x="191" y="398" width="3" height="5" fill="#fff"/>
<rect x="191" y="413" width="3" height="6" fill="#fff"/>
<rect x="197" y="398" width="3" height="5" fill="#fff"/>
<rect x="197" y="413" width="3" height="6" fill="#fff"/>
<rect x="203" y="398" width="3" height="5" fill="#fff"/>
<rect x="203" y="413" width="3" height="6" fill="#fff"/>
<rect x="209" y="398" width="3" height="5" fill="#fff"/>
<rect x="209" y="413" width="3" height="6" fill="#fff"/>
<rect x="214" y="398" width="3" height="5" fill="#fff"/>
<rect x="214" y="413" width="3" height="6" fill="#fff"/>
<rect x="220" y="398" width="3" height="5" fill="#fff"/>
<rect x="220" y="413" width="3" height="6" fill="#fff"/>
<rect x="226" y="398" width="3" height="5" fill="#fff"/>
<rect x="226" y="413" width="3" height="6" fill="#fff"/>
<rect x="232" y="398" width="3" height="5" fill="#fff"/>
<rect x="232" y="413" width="3" height="6" fill="#fff"/>
<rect x="238" y="398" width="3" height="5" fill="#fff"/>
<rect x="238" y="413" width="3" height="6" fill="#fff"/>
<rect x="243" y="398" width="3" height="5" fill="#fff"/>
<rect x="243" y="413" width="3" height="6" fill="#fff"/>
<rect x="170" y="406" width="72" height="5" fill="#fff"/>
<path d="M249 405.5 L246 408.5 L249 411.5 Z" fill="#fff" shape-rendering="auto"/>
<rect x="75" y="422" width="84" height="26" fill="#000"/>
<rect x="78" y="424" width="3" height="5" fill="#fff"/>
<rect x="78" y="440" width="3" height="5" fill="#fff"/>
<rect x="84" y="424" width="3" height="5" fill="#fff"/>
<rect x="84" y="440" width="3" height="5" fill="#fff"/>
<rect x="90" y="424" width="3" height="5" fill="#fff"/>
<rect x="90" y="440" width="3" height="5" fill="#fff"/>
<rect x="95" y="424" width="3" height="5" fill="#fff"/>
<rect x="95" y="440" width="3" height="5" fill="#fff"/>
<rect x="101" y="424" width="3" height="5" fill="#fff"/>
<rect x="101" y="440" width="3" height="5" fill="#fff"/>
<rect x="107" y="424" width="3" height="5" fill="#fff"/>
<rect x="107" y="440" width="3" height="5" fill="#fff"/>
<rect x="113" y="424" width="3" height="5" fill="#fff"/>
<rect x="113" y="440" width="3" height="5" fill="#fff"/>
<rect x="119" y="424" width="3" height="5" fill="#fff"/>
<rect x="119" y="440" width="3" height="5" fill="#fff"/>
<rect x="124" y="424" width="3" height="5" fill="#fff"/>
<rect x="124" y="440" width="3" height="5" fill="#fff"/>
<rect x="130" y="424" width="3" height="5" fill="#fff"/>
<rect x="130" y="440" width="3" height="5" fill="#fff"/>
<rect x="136" y="424" width="3" height="5" fill="#fff"/>
<rect x="136" y="440" width="3" height="5" fill="#fff"/>
<rect x="142" y="424" width="3" height="5" fill="#fff"/>
<rect x="142" y="440" width="3" height="5" fill="#fff"/>
<rect x="148" y="424" width="3" height="5" fill="#fff"/>
<rect x="148" y="440" width="3" height="5" fill="#fff"/>
<rect x="153" y="424" width="3" height="5" fill="#fff"/>
<rect x="153" y="440" width="3" height="5" fill="#fff"/>
<rect x="81" y="432" width="71" height="5" fill="#fff"/>
<path d="M159 431.5 L156 434.5 L159 437.5 Z" fill="#fff" shape-rendering="auto"/>
<rect x="165" y="422" width="84" height="26" fill="#000"/>
<rect x="168" y="424" width="3" height="5" fill="#fff"/>
<rect x="168" y="440" width="3" height="5" fill="#fff"/>
<rect x="174" y="424" width="3" height="5" fill="#fff"/>
<rect x="174" y="440" width="3" height="5" fill="#fff"/>
<rect x="180" y="424" width="3" height="5" fill="#fff"/>
<rect x="180" y="440" width="3" height="5" fill="#fff"/>
<rect x="185" y="424" width="3" height="5" fill="#fff"/>
<rect x="185" y="440" width="3" height="5" fill="#fff"/>
<rect x="191" y="424" width="3" height="5" fill="#fff"/>
<rect x="191" y="440" width="3" height="5" fill="#fff"/>
<rect x="197" y="424" width="3" height="5" fill="#fff"/>
<rect x="197" y="440" width="3" height="5" fill="#fff"/>
<rect x="203" y="424" width="3" height="5" fill="#fff"/>
<rect x="203" y="440" width="3" height="5" fill="#fff"/>
<rect x="209" y="424" width="3" height="5" fill="#fff"/>
<rect x="209" y="440" width="3" height="5" fill="#fff"/>
<rect x="214" y="424" width="3" height="5" fill="#fff"/>
<rect x="214" y="440" width="3" height="5" fill="#fff"/>
<rect x="220" y="424" width="3" height="5" fill="#fff"/>
<rect x="220" y="440" width="3" height="5" fill="#fff"/>
<rect x="226" y="424" width="3" height="5" fill="#fff"/>
<rect x="226" y="440" width="3" height="5" fill="#fff"/>
<rect x="232" y="424" width="3" height="5" fill="#fff"/>
<rect x="232" y="440" width="3" height="5" fill="#fff"/>
<rect x="238" y="424" width="3" height="5" fill="#fff"/>
<rect x="238" y="440" width="3" height="5" fill="#fff"/>
<rect x="243" y="424" width="3" height="5" fill="#fff"/>
<rect x="243" y="440" width="3" height="5" fill="#fff"/>
<rect x="170" y="432" width="72" height="5" fill="#fff"/>
<path d="M249 431.5 L246 434.5 L249 437.5 Z" fill="#fff" shape-rendering="auto"/>
<rect x="75" y="449" width="84" height="25" fill="#000"/>
<rect x="78" y="451" width="3" height="5" fill="#fff"/>
<rect x="78" y="466" width="3" height="5" fill="#fff"/>
<rect x="84" y="451" width="3" height="5" fill="#fff"/>
<rect x="84" y="466" width="3" height="5" fill="#fff"/>
<rect x="90" y="451" width="3" height="5" fill="#fff"/>
<rect x="90" y="466" width="3" height="5" fill="#fff"/>
<rect x="95" y="451" width="3" height="5" fill="#fff"/>
<rect x="95" y="466" width="3" height="5" fill="#fff"/>
<rect x="101" y="451" width="3" height="5" fill="#fff"/>
<rect x="101" y="466" width="3" height="5" fill="#fff"/>
<rect x="107" y="451" width="3" height="5" fill="#fff"/>
<rect x="107" y="466" width="3" height="5" fill="#fff"/>
<rect x="113" y="451" width="3" height="5" fill="#fff"/>
<rect x="113" y="466" width="3" height="5" fill="#fff"/>
<rect x="119" y="451" width="3" height="5" fill="#fff"/>
<rect x="119" y="466" width="3" height="5" fill="#fff"/>
<rect x="124" y="451" width="3" height="5" fill="#fff"/>
<rect x="124" y="466" width="3" height="5" fill="#fff"/>
<rect x="130" y="451" width="3" height="5" fill="#fff"/>
<rect x="130" y="466" width="3" height="5" fill="#fff"/>
<rect x="136" y="451" width="3" height="5" fill="#fff"/>
<rect x="136" y="466" width="3" height="5" fill="#fff"/>
<rect x="142" y="451" width="3" height="5" fill="#fff"/>
<rect x="142" y="466" width="3" height="5" fill="#fff"/>
<rect x="148" y="451" width="3" height="5" fill="#fff"/>
<rect x="148" y="466" width="3" height="5" fill="#fff"/>
<rect x="153" y="451" width="3" height="5" fill="#fff"/>
<rect x="153" y="466" width="3" height="5" fill="#fff"/>
<rect x="81" y="458" width="71" height="5" fill="#fff"/>
<path d="M159 457.5 L156 460.5 L159 463.5 Z" fill="#fff" shape-rendering="auto"/>
<rect x="165" y="449" width="84" height="25" fill="#000"/>
<rect x="168" y="451" width="3" height="5" fill="#fff"/>
<rect x="168" y="466" width="3" height="5" fill="#fff"/>
<rect x="174" y="451" width="3" height="5" fill="#fff"/>
<rect x="174" y="466" width="3" height="5" fill="#fff"/>
<rect x="180" y="451" width="3" height="5" fill="#fff"/>
<rect x="180" y="466" width="3" height="5" fill="#fff"/>
<rect x="185" y="451" width="3" height="5" fill="#fff"/>
<rect x="185" y="466" width="3" height="5" fill="#fff"/>
<rect x="191" y="451" width="3" height="5" fill="#fff"/>
<rect x="191" y="466" width="3" height="5" fill="#fff"/>
<rect x="197" y="451" width="3" height="5" fill="#fff"/>
<rect x="197" y="466" width="3" height="5" fill="#fff"/>
<rect x="203" y="451" width="3" height="5" fill="#fff"/>
<rect x="203" y="466" width="3" height="5" fill="#fff"/>
<rect x="209" y="451" width="3" height="5" fill="#fff"/>
<rect x="209" y="466" width="3" height="5" fill="#fff"/>
<rect x="214" y="451" width="3" height="5" fill="#fff"/>
<rect x="214" y="466" width="3" height="5" fill="#fff"/>
<rect x="220" y="451" width="3" height="5" fill="#fff"/>
<rect x="220" y="466" width="3" height="5" fill="#fff"/>
<rect x="226" y="451" width="3" height="5" fill="#fff"/>
<rect x="226" y="466" width="3" height="5" fill="#fff"/>
<rect x="232" y="451" width="3" height="5" fill="#fff"/>
<rect x="232" y="466" width="3" height="5" fill="#fff"/>
<rect x="238" y="451" width="3" height="5" fill="#fff"/>
<rect x="238" y="466" width="3" height="5" fill="#fff"/>
<rect x="243" y="451" width="3" height="5" fill="#fff"/>
<rect x="243" y="466" width="3" height="5" fill="#fff"/>
<rect x="170" y="458" width="72" height="5" fill="#fff"/>
<path d="M249 457.5 L246 460.5 L249 463.5 Z" fill="#fff" shape-rendering="auto"/>
<rect x="75" y="475" width="84" height="24" fill="#000"/>
<rect x="78" y="477" width="3" height="4" fill="#fff"/>
<rect x="78" y="492" width="3" height="5" fill="#fff"/>
<rect x="84" y="477" width="3" height="4" fill="#fff"/>
<rect x="84" y="492" width="3" height="5" fill="#fff"/>
<rect x="90" y="477" width="3" height="4" fill="#fff"/>
<rect x="90" y="492" width="3" height="5" fill="#fff"/>
<rect x="95" y="477" width="3" height="4" fill="#fff"/>
<rect x="95" y="492" width="3" height="5" fill="#fff"/>
<rect x="101" y="477" width="3" height="4" fill="#fff"/>
<rect x="101" y="492" width="3" height="5" fill="#fff"/>
<rect x="107" y="477" width="3" height="4" fill="#fff"/>
<rect x="107" y="492" width="3" height="5" fill="#fff"/>
<rect x="113" y="477" width="3" height="4" fill="#fff"/>
<rect x="113" y="492" width="3" height="5" fill="#fff"/>
<rect x="119" y="477" width="3" height="4" fill="#fff"/>
<rect x="119" y="492" width="3" height="5" fill="#fff"/>
<rect x="124" y="477" width="3" height="4" fill="#fff"/>
<rect x="124" y="492" width="3" height="5" fill="#fff"/>
<rect x="130" y="477" width="3" height="4" fill="#fff"/>
<rect x="130" y="492" width="3" height="5" fill="#fff"/>
<rect x="136" y="477" width="3" height="4" fill="#fff"/>
<rect x="136" y="492" width="3" height="5" fill="#fff"/>
<rect x="142" y="477" width="3" height="4" fill="#fff"/>
<rect x="142" y="492" width="3" height="5" fill="#fff"/>
<rect x="148" y="477" width="3" height="4" fill="#fff"/>
<rect x="148" y="492" width="3" height="5" fill="#fff"/>
<rect x="153" y="477" width="3" height="4" fill="#fff"/>
<rect x="153" y="492" width="3" height="5" fill="#fff"/>
<rect x="81" y="485" width="71" height="4" fill="#fff"/>
<path d="M159 484.5 L156 487 L159 489.5 Z" fill="#fff" shape-rendering="auto"/>
<rect x="165" y="475" width="84" height="24" fill="#000"/>
<rect x="168" y="477" width="3" height="4" fill="#fff"/>
<rect x="168" y="492" width="3" height="5" fill="#fff"/>
<rect x="174" y="477" width="3" height="4" fill="#fff"/>
<rect x="174" y="492" width="3" height="5" fill="#fff"/>
<rect x="180" y="477" width="3" height="4" fill="#fff"/>
<rect x="180" y="492" width="3" height="5" fill="#fff"/>
<rect x="185" y="477" width="3" height="4" fill="#fff"/>
<rect x="185" y="492" width="3" height="5" fill="#fff"/>
<rect x="191" y="477" width="3" height="4" fill="#fff"/>
<rect x="191" y="492" width="3" height="5" fill="#fff"/>
<rect x="197" y="477" width="3" height="4" fill="#fff"/>
<rect x="197" y="492" width="3" height="5" fill="#fff"/>
<rect x="203" y="477" width="3" height="4" fill="#fff"/>
<rect x="203" y="492" width="3" height="5" fill="#fff"/>
<rect x="209" y="477" width="3" height="4" fill="#fff"/>
<rect x="209" y="492" width="3" height="5" fill="#fff"/>
<rect x="214" y="477" width="3" height="4" fill="#fff"/>
<rect x="214" y="492" width="3" height="5" fill="#fff"/>
<rect x="220" y="477" width="3" height="4" fill="#fff"/>
<rect x="220" y="492" width="3" height="5" fill="#fff"/>
<rect x="226" y="477" width="3" height="4" fill="#fff"/>
<rect x="226" y="492" width="3" height="5" fill="#fff"/>
<rect x="232" y="477" width="3" height="4" fill="#fff"/>
<rect x="232" y="492" width="3" height="5" fill="#fff"/>
<rect x="238" y="477" width="3" height="4" fill="#fff"/>
<rect x="238" y="492" width="3" height="5" fill="#fff"/>
<rect x="243" y="477" width="3" height="4" fill="#fff"/>
<rect x="243" y="492" width="3" height="5" fill="#fff"/>
<rect x="170" y="485" width="72" height="4" fill="#fff"/>
<path d="M249 484.5 L246 487 L249 489.5 Z" fill="#fff" shape-rendering="auto"/>
<rect x="102" y="370" width="31" height="17" rx="2" fill="#fff" stroke="#000" stroke-width="2" shape-rendering="auto"/>
<text transform="translate(104.5 383) scale(0.84 1)" font-size="14.5" fill="#000" textLength="28.57" lengthAdjust="spacing">TAG</text>
<rect x="113" y="403" width="5" height="6" fill="#000"/>
<rect x="113" y="485" width="5" height="6" fill="#000"/>
<rect x="203" y="403" width="5" height="6" fill="#000"/>
<rect x="203" y="485" width="5" height="6" fill="#000"/>
<rect x="109" y="409" width="17" height="76" rx="4" fill="#fff" stroke="#000" stroke-width="2" shape-rendering="auto"/>
<rect x="199" y="409" width="17" height="76" rx="4" fill="#fff" stroke="#000" stroke-width="2" shape-rendering="auto"/>
<text x="117.5" y="422.5" font-size="13" text-anchor="middle" transform="translate(117.5 0) scale(0.8 1) translate(-117.5 0)">B</text>
<text x="117.5" y="438" font-size="13" text-anchor="middle" transform="translate(117.5 0) scale(0.8 1) translate(-117.5 0)">A</text>
<text x="117.5" y="453" font-size="13" text-anchor="middle" transform="translate(117.5 0) scale(0.8 1) translate(-117.5 0)">N</text>
<text x="117.5" y="466.5" font-size="13" text-anchor="middle" transform="translate(117.5 0) scale(0.8 1) translate(-117.5 0)">K</text>
<text x="117.5" y="482" font-size="13" text-anchor="middle" transform="translate(117.5 0) scale(0.8 1) translate(-117.5 0)">1</text>
<text x="207.5" y="422.5" font-size="13" text-anchor="middle" transform="translate(207.5 0) scale(0.8 1) translate(-207.5 0)">B</text>
<text x="207.5" y="438" font-size="13" text-anchor="middle" transform="translate(207.5 0) scale(0.8 1) translate(-207.5 0)">A</text>
<text x="207.5" y="453" font-size="13" text-anchor="middle" transform="translate(207.5 0) scale(0.8 1) translate(-207.5 0)">N</text>
<text x="207.5" y="466.5" font-size="13" text-anchor="middle" transform="translate(207.5 0) scale(0.8 1) translate(-207.5 0)">K</text>
<text x="207.5" y="482" font-size="13" text-anchor="middle" transform="translate(207.5 0) scale(0.8 1) translate(-207.5 0)">0</text>
<rect x="138.6" y="440.6" width="47.8" height="14.8" rx="2" fill="#fff" stroke="#000" stroke-width="1.2" shape-rendering="auto"/>
<text transform="translate(139 452.5) scale(0.84 1)" font-size="14.5" fill="#000">C</text>
<text transform="translate(149.5 452.5) scale(0.84 1)" font-size="14.5" fill="#000" textLength="18.45" lengthAdjust="spacing">AC</text>
<text transform="translate(168.5 452.5) scale(0.84 1)" font-size="14.5" fill="#000" textLength="19.64" lengthAdjust="spacing">HE</text>
<rect x="392" y="313" width="90" height="43" fill="#000"/>
<line x1="395" y1="315.5" x2="480" y2="315.5" stroke="#fff" stroke-width="1" stroke-dasharray="3 3"/>
<rect x="416" y="327" width="41" height="15" rx="2" fill="#fff" shape-rendering="auto"/>
<text transform="translate(420.5 340) scale(0.84 1)" font-size="14.5" fill="#000" textLength="36.31" lengthAdjust="spacing">BIOS</text>
<rect x="294.5" y="430.5" width="277" height="15" fill="#fff" stroke="#000" stroke-width="1"/>
<rect x="294" y="434" width="8" height="1" fill="#000"/>
<rect x="294" y="439" width="8" height="1" fill="#000"/>
<rect x="302" y="432" width="1" height="13" fill="#000"/>
<rect x="304" y="432" width="3" height="13" fill="#000"/>
<rect x="306" y="433" width="10" height="1" fill="#000"/>
<rect x="315" y="433" width="1" height="7" fill="#000"/>
<rect x="308" y="439" width="8" height="1" fill="#000"/>
<rect x="308" y="439" width="1" height="2.5" fill="#000"/>
<rect x="306" y="441" width="3" height="1" fill="#000"/>
<rect x="313" y="440" width="1" height="5" fill="#000"/>
<rect x="309" y="440" width="7" height="0.5" fill="#000"/>
<rect x="317" y="433" width="231" height="11" fill="#000"/>
<rect x="318" y="434" width="1" height="5" fill="#fff"/>
<rect x="320" y="434" width="1" height="5" fill="#fff"/>
<rect x="323" y="434" width="1" height="5" fill="#fff"/>
<rect x="326" y="434" width="1" height="5" fill="#fff"/>
<rect x="328" y="434" width="1" height="5" fill="#fff"/>
<rect x="331" y="434" width="1" height="5" fill="#fff"/>
<rect x="334" y="434" width="1" height="5" fill="#fff"/>
<rect x="336" y="434" width="1" height="5" fill="#fff"/>
<rect x="339" y="434" width="1" height="5" fill="#fff"/>
<rect x="342" y="434" width="1" height="5" fill="#fff"/>
<rect x="344" y="434" width="1" height="5" fill="#fff"/>
<rect x="347" y="434" width="1" height="5" fill="#fff"/>
<rect x="350" y="434" width="1" height="5" fill="#fff"/>
<rect x="352" y="434" width="1" height="5" fill="#fff"/>
<rect x="355" y="434" width="1" height="5" fill="#fff"/>
<rect x="358" y="434" width="1" height="5" fill="#fff"/>
<rect x="360" y="434" width="1" height="5" fill="#fff"/>
<rect x="363" y="434" width="1" height="5" fill="#fff"/>
<rect x="366" y="434" width="1" height="5" fill="#fff"/>
<rect x="368" y="434" width="1" height="5" fill="#fff"/>
<rect x="371" y="434" width="1" height="5" fill="#fff"/>
<rect x="374" y="434" width="1" height="5" fill="#fff"/>
<rect x="376" y="434" width="1" height="5" fill="#fff"/>
<rect x="379" y="434" width="1" height="5" fill="#fff"/>
<rect x="382" y="434" width="1" height="5" fill="#fff"/>
<rect x="384" y="434" width="1" height="5" fill="#fff"/>
<rect x="387" y="434" width="1" height="5" fill="#fff"/>
<rect x="390" y="434" width="1" height="5" fill="#fff"/>
<rect x="392" y="434" width="1" height="5" fill="#fff"/>
<rect x="395" y="434" width="1" height="5" fill="#fff"/>
<rect x="398" y="434" width="1" height="5" fill="#fff"/>
<rect x="400" y="434" width="1" height="5" fill="#fff"/>
<rect x="464" y="434" width="1" height="5" fill="#fff"/>
<rect x="467" y="434" width="1" height="5" fill="#fff"/>
<rect x="470" y="434" width="1" height="5" fill="#fff"/>
<rect x="472" y="434" width="1" height="5" fill="#fff"/>
<rect x="475" y="434" width="1" height="5" fill="#fff"/>
<rect x="478" y="434" width="1" height="5" fill="#fff"/>
<rect x="480" y="434" width="1" height="5" fill="#fff"/>
<rect x="483" y="434" width="1" height="5" fill="#fff"/>
<rect x="486" y="434" width="1" height="5" fill="#fff"/>
<rect x="488" y="434" width="1" height="5" fill="#fff"/>
<rect x="491" y="434" width="1" height="5" fill="#fff"/>
<rect x="494" y="434" width="1" height="5" fill="#fff"/>
<rect x="496" y="434" width="1" height="5" fill="#fff"/>
<rect x="499" y="434" width="1" height="5" fill="#fff"/>
<rect x="502" y="434" width="1" height="5" fill="#fff"/>
<rect x="504" y="434" width="1" height="5" fill="#fff"/>
<rect x="507" y="434" width="1" height="5" fill="#fff"/>
<rect x="510" y="434" width="1" height="5" fill="#fff"/>
<rect x="512" y="434" width="1" height="5" fill="#fff"/>
<rect x="515" y="434" width="1" height="5" fill="#fff"/>
<rect x="518" y="434" width="1" height="5" fill="#fff"/>
<rect x="520" y="434" width="1" height="5" fill="#fff"/>
<rect x="523" y="434" width="1" height="5" fill="#fff"/>
<rect x="526" y="434" width="1" height="5" fill="#fff"/>
<rect x="528" y="434" width="1" height="5" fill="#fff"/>
<rect x="531" y="434" width="1" height="5" fill="#fff"/>
<rect x="534" y="434" width="1" height="5" fill="#fff"/>
<rect x="536" y="434" width="1" height="5" fill="#fff"/>
<rect x="539" y="434" width="1" height="5" fill="#fff"/>
<rect x="542" y="434" width="1" height="5" fill="#fff"/>
<rect x="544" y="434" width="1" height="5" fill="#fff"/>
<rect x="550" y="433" width="10" height="1" fill="#000"/>
<rect x="550" y="433" width="1" height="7" fill="#000"/>
<rect x="550" y="439" width="8" height="1" fill="#000"/>
<rect x="557" y="439" width="1" height="2.5" fill="#000"/>
<rect x="557" y="441" width="3" height="1" fill="#000"/>
<rect x="553" y="440" width="1" height="5" fill="#000"/>
<rect x="550" y="440" width="7" height="0.5" fill="#000"/>
<rect x="560" y="432" width="4" height="13" fill="#000"/>
<rect x="564" y="434" width="8" height="1" fill="#000"/>
<rect x="564" y="439" width="8" height="1" fill="#000"/>
<rect x="294.5" y="447.5" width="277" height="15" fill="#fff" stroke="#000" stroke-width="1"/>
<rect x="294" y="451" width="8" height="1" fill="#000"/>
<rect x="294" y="456" width="8" height="1" fill="#000"/>
<rect x="302" y="449" width="1" height="13" fill="#000"/>
<rect x="304" y="449" width="3" height="13" fill="#000"/>
<rect x="306" y="450" width="10" height="1" fill="#000"/>
<rect x="315" y="450" width="1" height="7" fill="#000"/>
<rect x="308" y="456" width="8" height="1" fill="#000"/>
<rect x="308" y="456" width="1" height="2.5" fill="#000"/>
<rect x="306" y="458" width="3" height="1" fill="#000"/>
<rect x="313" y="457" width="1" height="5" fill="#000"/>
<rect x="309" y="457" width="7" height="0.5" fill="#000"/>
<rect x="317" y="450" width="231" height="11" fill="#000"/>
<rect x="318" y="451" width="1" height="5" fill="#fff"/>
<rect x="320" y="451" width="1" height="5" fill="#fff"/>
<rect x="323" y="451" width="1" height="5" fill="#fff"/>
<rect x="326" y="451" width="1" height="5" fill="#fff"/>
<rect x="328" y="451" width="1" height="5" fill="#fff"/>
<rect x="331" y="451" width="1" height="5" fill="#fff"/>
<rect x="334" y="451" width="1" height="5" fill="#fff"/>
<rect x="336" y="451" width="1" height="5" fill="#fff"/>
<rect x="339" y="451" width="1" height="5" fill="#fff"/>
<rect x="342" y="451" width="1" height="5" fill="#fff"/>
<rect x="344" y="451" width="1" height="5" fill="#fff"/>
<rect x="347" y="451" width="1" height="5" fill="#fff"/>
<rect x="350" y="451" width="1" height="5" fill="#fff"/>
<rect x="352" y="451" width="1" height="5" fill="#fff"/>
<rect x="355" y="451" width="1" height="5" fill="#fff"/>
<rect x="358" y="451" width="1" height="5" fill="#fff"/>
<rect x="360" y="451" width="1" height="5" fill="#fff"/>
<rect x="363" y="451" width="1" height="5" fill="#fff"/>
<rect x="366" y="451" width="1" height="5" fill="#fff"/>
<rect x="368" y="451" width="1" height="5" fill="#fff"/>
<rect x="371" y="451" width="1" height="5" fill="#fff"/>
<rect x="374" y="451" width="1" height="5" fill="#fff"/>
<rect x="376" y="451" width="1" height="5" fill="#fff"/>
<rect x="379" y="451" width="1" height="5" fill="#fff"/>
<rect x="382" y="451" width="1" height="5" fill="#fff"/>
<rect x="384" y="451" width="1" height="5" fill="#fff"/>
<rect x="387" y="451" width="1" height="5" fill="#fff"/>
<rect x="390" y="451" width="1" height="5" fill="#fff"/>
<rect x="392" y="451" width="1" height="5" fill="#fff"/>
<rect x="395" y="451" width="1" height="5" fill="#fff"/>
<rect x="398" y="451" width="1" height="5" fill="#fff"/>
<rect x="400" y="451" width="1" height="5" fill="#fff"/>
<rect x="464" y="451" width="1" height="5" fill="#fff"/>
<rect x="467" y="451" width="1" height="5" fill="#fff"/>
<rect x="470" y="451" width="1" height="5" fill="#fff"/>
<rect x="472" y="451" width="1" height="5" fill="#fff"/>
<rect x="475" y="451" width="1" height="5" fill="#fff"/>
<rect x="478" y="451" width="1" height="5" fill="#fff"/>
<rect x="480" y="451" width="1" height="5" fill="#fff"/>
<rect x="483" y="451" width="1" height="5" fill="#fff"/>
<rect x="486" y="451" width="1" height="5" fill="#fff"/>
<rect x="488" y="451" width="1" height="5" fill="#fff"/>
<rect x="491" y="451" width="1" height="5" fill="#fff"/>
<rect x="494" y="451" width="1" height="5" fill="#fff"/>
<rect x="496" y="451" width="1" height="5" fill="#fff"/>
<rect x="499" y="451" width="1" height="5" fill="#fff"/>
<rect x="502" y="451" width="1" height="5" fill="#fff"/>
<rect x="504" y="451" width="1" height="5" fill="#fff"/>
<rect x="507" y="451" width="1" height="5" fill="#fff"/>
<rect x="510" y="451" width="1" height="5" fill="#fff"/>
<rect x="512" y="451" width="1" height="5" fill="#fff"/>
<rect x="515" y="451" width="1" height="5" fill="#fff"/>
<rect x="518" y="451" width="1" height="5" fill="#fff"/>
<rect x="520" y="451" width="1" height="5" fill="#fff"/>
<rect x="523" y="451" width="1" height="5" fill="#fff"/>
<rect x="526" y="451" width="1" height="5" fill="#fff"/>
<rect x="528" y="451" width="1" height="5" fill="#fff"/>
<rect x="531" y="451" width="1" height="5" fill="#fff"/>
<rect x="534" y="451" width="1" height="5" fill="#fff"/>
<rect x="536" y="451" width="1" height="5" fill="#fff"/>
<rect x="539" y="451" width="1" height="5" fill="#fff"/>
<rect x="542" y="451" width="1" height="5" fill="#fff"/>
<rect x="544" y="451" width="1" height="5" fill="#fff"/>
<rect x="550" y="450" width="10" height="1" fill="#000"/>
<rect x="550" y="450" width="1" height="7" fill="#000"/>
<rect x="550" y="456" width="8" height="1" fill="#000"/>
<rect x="557" y="456" width="1" height="2.5" fill="#000"/>
<rect x="557" y="458" width="3" height="1" fill="#000"/>
<rect x="553" y="457" width="1" height="5" fill="#000"/>
<rect x="550" y="457" width="7" height="0.5" fill="#000"/>
<rect x="560" y="449" width="4" height="13" fill="#000"/>
<rect x="564" y="451" width="8" height="1" fill="#000"/>
<rect x="564" y="456" width="8" height="1" fill="#000"/>
<rect x="294.5" y="464.5" width="277" height="15" fill="#fff" stroke="#000" stroke-width="1"/>
<rect x="294" y="468" width="8" height="1" fill="#000"/>
<rect x="294" y="473" width="8" height="1" fill="#000"/>
<rect x="302" y="466" width="1" height="13" fill="#000"/>
<rect x="304" y="466" width="3" height="13" fill="#000"/>
<rect x="306" y="467" width="10" height="1" fill="#000"/>
<rect x="315" y="467" width="1" height="7" fill="#000"/>
<rect x="308" y="473" width="8" height="1" fill="#000"/>
<rect x="308" y="473" width="1" height="2.5" fill="#000"/>
<rect x="306" y="475" width="3" height="1" fill="#000"/>
<rect x="313" y="474" width="1" height="5" fill="#000"/>
<rect x="309" y="474" width="7" height="0.5" fill="#000"/>
<rect x="317" y="467" width="231" height="11" fill="#000"/>
<rect x="318" y="468" width="1" height="5" fill="#fff"/>
<rect x="320" y="468" width="1" height="5" fill="#fff"/>
<rect x="323" y="468" width="1" height="5" fill="#fff"/>
<rect x="326" y="468" width="1" height="5" fill="#fff"/>
<rect x="328" y="468" width="1" height="5" fill="#fff"/>
<rect x="331" y="468" width="1" height="5" fill="#fff"/>
<rect x="334" y="468" width="1" height="5" fill="#fff"/>
<rect x="336" y="468" width="1" height="5" fill="#fff"/>
<rect x="339" y="468" width="1" height="5" fill="#fff"/>
<rect x="342" y="468" width="1" height="5" fill="#fff"/>
<rect x="344" y="468" width="1" height="5" fill="#fff"/>
<rect x="347" y="468" width="1" height="5" fill="#fff"/>
<rect x="350" y="468" width="1" height="5" fill="#fff"/>
<rect x="352" y="468" width="1" height="5" fill="#fff"/>
<rect x="355" y="468" width="1" height="5" fill="#fff"/>
<rect x="358" y="468" width="1" height="5" fill="#fff"/>
<rect x="360" y="468" width="1" height="5" fill="#fff"/>
<rect x="363" y="468" width="1" height="5" fill="#fff"/>
<rect x="366" y="468" width="1" height="5" fill="#fff"/>
<rect x="368" y="468" width="1" height="5" fill="#fff"/>
<rect x="371" y="468" width="1" height="5" fill="#fff"/>
<rect x="374" y="468" width="1" height="5" fill="#fff"/>
<rect x="376" y="468" width="1" height="5" fill="#fff"/>
<rect x="379" y="468" width="1" height="5" fill="#fff"/>
<rect x="382" y="468" width="1" height="5" fill="#fff"/>
<rect x="384" y="468" width="1" height="5" fill="#fff"/>
<rect x="387" y="468" width="1" height="5" fill="#fff"/>
<rect x="390" y="468" width="1" height="5" fill="#fff"/>
<rect x="392" y="468" width="1" height="5" fill="#fff"/>
<rect x="395" y="468" width="1" height="5" fill="#fff"/>
<rect x="398" y="468" width="1" height="5" fill="#fff"/>
<rect x="400" y="468" width="1" height="5" fill="#fff"/>
<rect x="464" y="468" width="1" height="5" fill="#fff"/>
<rect x="467" y="468" width="1" height="5" fill="#fff"/>
<rect x="470" y="468" width="1" height="5" fill="#fff"/>
<rect x="472" y="468" width="1" height="5" fill="#fff"/>
<rect x="475" y="468" width="1" height="5" fill="#fff"/>
<rect x="478" y="468" width="1" height="5" fill="#fff"/>
<rect x="480" y="468" width="1" height="5" fill="#fff"/>
<rect x="483" y="468" width="1" height="5" fill="#fff"/>
<rect x="486" y="468" width="1" height="5" fill="#fff"/>
<rect x="488" y="468" width="1" height="5" fill="#fff"/>
<rect x="491" y="468" width="1" height="5" fill="#fff"/>
<rect x="494" y="468" width="1" height="5" fill="#fff"/>
<rect x="496" y="468" width="1" height="5" fill="#fff"/>
<rect x="499" y="468" width="1" height="5" fill="#fff"/>
<rect x="502" y="468" width="1" height="5" fill="#fff"/>
<rect x="504" y="468" width="1" height="5" fill="#fff"/>
<rect x="507" y="468" width="1" height="5" fill="#fff"/>
<rect x="510" y="468" width="1" height="5" fill="#fff"/>
<rect x="512" y="468" width="1" height="5" fill="#fff"/>
<rect x="515" y="468" width="1" height="5" fill="#fff"/>
<rect x="518" y="468" width="1" height="5" fill="#fff"/>
<rect x="520" y="468" width="1" height="5" fill="#fff"/>
<rect x="523" y="468" width="1" height="5" fill="#fff"/>
<rect x="526" y="468" width="1" height="5" fill="#fff"/>
<rect x="528" y="468" width="1" height="5" fill="#fff"/>
<rect x="531" y="468" width="1" height="5" fill="#fff"/>
<rect x="534" y="468" width="1" height="5" fill="#fff"/>
<rect x="536" y="468" width="1" height="5" fill="#fff"/>
<rect x="539" y="468" width="1" height="5" fill="#fff"/>
<rect x="542" y="468" width="1" height="5" fill="#fff"/>
<rect x="544" y="468" width="1" height="5" fill="#fff"/>
<rect x="550" y="467" width="10" height="1" fill="#000"/>
<rect x="550" y="467" width="1" height="7" fill="#000"/>
<rect x="550" y="473" width="8" height="1" fill="#000"/>
<rect x="557" y="473" width="1" height="2.5" fill="#000"/>
<rect x="557" y="475" width="3" height="1" fill="#000"/>
<rect x="553" y="474" width="1" height="5" fill="#000"/>
<rect x="550" y="474" width="7" height="0.5" fill="#000"/>
<rect x="560" y="466" width="4" height="13" fill="#000"/>
<rect x="564" y="468" width="8" height="1" fill="#000"/>
<rect x="564" y="473" width="8" height="1" fill="#000"/>
<rect x="294.5" y="481.5" width="277" height="15" fill="#fff" stroke="#000" stroke-width="1"/>
<rect x="294" y="485" width="8" height="1" fill="#000"/>
<rect x="294" y="490" width="8" height="1" fill="#000"/>
<rect x="302" y="483" width="1" height="13" fill="#000"/>
<rect x="304" y="483" width="3" height="13" fill="#000"/>
<rect x="306" y="484" width="10" height="1" fill="#000"/>
<rect x="315" y="484" width="1" height="7" fill="#000"/>
<rect x="308" y="490" width="8" height="1" fill="#000"/>
<rect x="308" y="490" width="1" height="2.5" fill="#000"/>
<rect x="306" y="492" width="3" height="1" fill="#000"/>
<rect x="313" y="491" width="1" height="5" fill="#000"/>
<rect x="309" y="491" width="7" height="0.5" fill="#000"/>
<rect x="317" y="484" width="231" height="11" fill="#000"/>
<rect x="318" y="485" width="1" height="5" fill="#fff"/>
<rect x="320" y="485" width="1" height="5" fill="#fff"/>
<rect x="323" y="485" width="1" height="5" fill="#fff"/>
<rect x="326" y="485" width="1" height="5" fill="#fff"/>
<rect x="328" y="485" width="1" height="5" fill="#fff"/>
<rect x="331" y="485" width="1" height="5" fill="#fff"/>
<rect x="334" y="485" width="1" height="5" fill="#fff"/>
<rect x="336" y="485" width="1" height="5" fill="#fff"/>
<rect x="339" y="485" width="1" height="5" fill="#fff"/>
<rect x="342" y="485" width="1" height="5" fill="#fff"/>
<rect x="344" y="485" width="1" height="5" fill="#fff"/>
<rect x="347" y="485" width="1" height="5" fill="#fff"/>
<rect x="350" y="485" width="1" height="5" fill="#fff"/>
<rect x="352" y="485" width="1" height="5" fill="#fff"/>
<rect x="355" y="485" width="1" height="5" fill="#fff"/>
<rect x="358" y="485" width="1" height="5" fill="#fff"/>
<rect x="360" y="485" width="1" height="5" fill="#fff"/>
<rect x="363" y="485" width="1" height="5" fill="#fff"/>
<rect x="366" y="485" width="1" height="5" fill="#fff"/>
<rect x="368" y="485" width="1" height="5" fill="#fff"/>
<rect x="371" y="485" width="1" height="5" fill="#fff"/>
<rect x="374" y="485" width="1" height="5" fill="#fff"/>
<rect x="376" y="485" width="1" height="5" fill="#fff"/>
<rect x="379" y="485" width="1" height="5" fill="#fff"/>
<rect x="382" y="485" width="1" height="5" fill="#fff"/>
<rect x="384" y="485" width="1" height="5" fill="#fff"/>
<rect x="387" y="485" width="1" height="5" fill="#fff"/>
<rect x="390" y="485" width="1" height="5" fill="#fff"/>
<rect x="392" y="485" width="1" height="5" fill="#fff"/>
<rect x="395" y="485" width="1" height="5" fill="#fff"/>
<rect x="398" y="485" width="1" height="5" fill="#fff"/>
<rect x="400" y="485" width="1" height="5" fill="#fff"/>
<rect x="464" y="485" width="1" height="5" fill="#fff"/>
<rect x="467" y="485" width="1" height="5" fill="#fff"/>
<rect x="470" y="485" width="1" height="5" fill="#fff"/>
<rect x="472" y="485" width="1" height="5" fill="#fff"/>
<rect x="475" y="485" width="1" height="5" fill="#fff"/>
<rect x="478" y="485" width="1" height="5" fill="#fff"/>
<rect x="480" y="485" width="1" height="5" fill="#fff"/>
<rect x="483" y="485" width="1" height="5" fill="#fff"/>
<rect x="486" y="485" width="1" height="5" fill="#fff"/>
<rect x="488" y="485" width="1" height="5" fill="#fff"/>
<rect x="491" y="485" width="1" height="5" fill="#fff"/>
<rect x="494" y="485" width="1" height="5" fill="#fff"/>
<rect x="496" y="485" width="1" height="5" fill="#fff"/>
<rect x="499" y="485" width="1" height="5" fill="#fff"/>
<rect x="502" y="485" width="1" height="5" fill="#fff"/>
<rect x="504" y="485" width="1" height="5" fill="#fff"/>
<rect x="507" y="485" width="1" height="5" fill="#fff"/>
<rect x="510" y="485" width="1" height="5" fill="#fff"/>
<rect x="512" y="485" width="1" height="5" fill="#fff"/>
<rect x="515" y="485" width="1" height="5" fill="#fff"/>
<rect x="518" y="485" width="1" height="5" fill="#fff"/>
<rect x="520" y="485" width="1" height="5" fill="#fff"/>
<rect x="523" y="485" width="1" height="5" fill="#fff"/>
<rect x="526" y="485" width="1" height="5" fill="#fff"/>
<rect x="528" y="485" width="1" height="5" fill="#fff"/>
<rect x="531" y="485" width="1" height="5" fill="#fff"/>
<rect x="534" y="485" width="1" height="5" fill="#fff"/>
<rect x="536" y="485" width="1" height="5" fill="#fff"/>
<rect x="539" y="485" width="1" height="5" fill="#fff"/>
<rect x="542" y="485" width="1" height="5" fill="#fff"/>
<rect x="544" y="485" width="1" height="5" fill="#fff"/>
<rect x="550" y="484" width="10" height="1" fill="#000"/>
<rect x="550" y="484" width="1" height="7" fill="#000"/>
<rect x="550" y="490" width="8" height="1" fill="#000"/>
<rect x="557" y="490" width="1" height="2.5" fill="#000"/>
<rect x="557" y="492" width="3" height="1" fill="#000"/>
<rect x="553" y="491" width="1" height="5" fill="#000"/>
<rect x="550" y="491" width="7" height="0.5" fill="#000"/>
<rect x="560" y="483" width="4" height="13" fill="#000"/>
<rect x="564" y="485" width="8" height="1" fill="#000"/>
<rect x="564" y="490" width="8" height="1" fill="#000"/>
<rect x="404.9" y="428.9" width="57.2" height="17.2" rx="4" fill="#fff" stroke="#000" stroke-width="1.8" shape-rendering="auto"/>
<text transform="translate(409.5 442.5) scale(0.84 1)" font-size="14.5" fill="#000" textLength="55.95" lengthAdjust="spacing">BANK 0</text>
<rect x="404.9" y="445.9" width="57.2" height="17.2" rx="4" fill="#fff" stroke="#000" stroke-width="1.8" shape-rendering="auto"/>
<text transform="translate(409.5 459.5) scale(0.84 1)" font-size="14.5" fill="#000" textLength="55.95" lengthAdjust="spacing">BANK 1</text>
<rect x="404.9" y="462.9" width="57.2" height="17.2" rx="4" fill="#fff" stroke="#000" stroke-width="1.8" shape-rendering="auto"/>
<text transform="translate(409.5 476.5) scale(0.84 1)" font-size="14.5" fill="#000" textLength="55.95" lengthAdjust="spacing">BANK 2</text>
<rect x="404.9" y="479.9" width="57.2" height="17.2" rx="4" fill="#fff" stroke="#000" stroke-width="1.8" shape-rendering="auto"/>
<text transform="translate(409.5 493.5) scale(0.84 1)" font-size="14.5" fill="#000" textLength="55.95" lengthAdjust="spacing">BANK 3</text>
<rect x="579.5" y="388.5" width="23" height="110" fill="#fff" stroke="#000" stroke-width="1"/>
<rect x="595" y="389" width="1" height="110" fill="#000"/>
<rect x="583" y="389" width="5" height="1.5" fill="#000"/>
<rect x="582.5" y="393.5" width="6" height="6.5" fill="#fff" stroke="#000" stroke-width="1"/>
<rect x="582.5" y="402.5" width="6" height="6.5" fill="#fff" stroke="#000" stroke-width="1"/>
<rect x="582.5" y="412.5" width="6" height="6.5" fill="#fff" stroke="#000" stroke-width="1"/>
<rect x="582.5" y="421.5" width="6" height="6.5" fill="#fff" stroke="#000" stroke-width="1"/>
<rect x="582.5" y="431.5" width="6" height="6.5" fill="#fff" stroke="#000" stroke-width="1"/>
<rect x="582.5" y="440.5" width="6" height="6.5" fill="#fff" stroke="#000" stroke-width="1"/>
<rect x="582.5" y="449.5" width="6" height="6.5" fill="#fff" stroke="#000" stroke-width="1"/>
<rect x="582.5" y="459.5" width="6" height="6.5" fill="#fff" stroke="#000" stroke-width="1"/>
<rect x="582.5" y="468.5" width="6" height="6.5" fill="#fff" stroke="#000" stroke-width="1"/>
<rect x="582.5" y="478.5" width="6" height="6.5" fill="#fff" stroke="#000" stroke-width="1"/>
<rect x="582.5" y="487.5" width="6" height="6.5" fill="#fff" stroke="#000" stroke-width="1"/>
<rect x="590" y="390" width="3" height="7" fill="#000"/>
<rect x="596" y="391" width="2" height="5" fill="#000"/>
<rect x="598" y="392" width="2" height="3" fill="#000"/>
<rect x="590" y="399" width="3" height="7" fill="#000"/>
<rect x="596" y="400" width="2" height="5" fill="#000"/>
<rect x="598" y="401" width="2" height="3" fill="#000"/>
<rect x="590" y="408" width="3" height="7" fill="#000"/>
<rect x="596" y="409" width="2" height="5" fill="#000"/>
<rect x="598" y="410" width="2" height="3" fill="#000"/>
<rect x="590" y="417" width="3" height="7" fill="#000"/>
<rect x="596" y="418" width="2" height="5" fill="#000"/>
<rect x="598" y="419" width="2" height="3" fill="#000"/>
<rect x="590" y="426" width="3" height="7" fill="#000"/>
<rect x="596" y="427" width="2" height="5" fill="#000"/>
<rect x="598" y="428" width="2" height="3" fill="#000"/>
<rect x="590" y="436" width="3" height="7" fill="#000"/>
<rect x="596" y="436" width="2" height="5" fill="#000"/>
<rect x="598" y="437" width="2" height="3" fill="#000"/>
<rect x="590" y="445" width="3" height="7" fill="#000"/>
<rect x="596" y="445" width="2" height="5" fill="#000"/>
<rect x="598" y="446" width="2" height="3" fill="#000"/>
<rect x="590" y="454" width="3" height="7" fill="#000"/>
<rect x="596" y="454" width="2" height="5" fill="#000"/>
<rect x="598" y="455" width="2" height="3" fill="#000"/>
<rect x="590" y="463" width="3" height="7" fill="#000"/>
<rect x="596" y="463" width="2" height="5" fill="#000"/>
<rect x="598" y="464" width="2" height="3" fill="#000"/>
<rect x="590" y="472" width="3" height="7" fill="#000"/>
<rect x="596" y="472" width="2" height="5" fill="#000"/>
<rect x="598" y="473" width="2" height="3" fill="#000"/>
<rect x="590" y="482" width="3" height="7" fill="#000"/>
<rect x="596" y="481" width="2" height="5" fill="#000"/>
<rect x="598" y="482" width="2" height="3" fill="#000"/>
<rect x="590" y="491" width="3" height="7" fill="#000"/>
<rect x="596" y="490" width="2" height="5" fill="#000"/>
<rect x="598" y="491" width="2" height="3" fill="#000"/>
<path d="M583 499 L586 496 L589 499 Z" fill="#fff" shape-rendering="auto"/>
<rect x="619" y="438" width="25" height="38" fill="#000"/>
<rect x="643" y="434" width="3" height="48" fill="#000"/>
<rect x="645" y="432" width="4" height="52" fill="#000"/>
<rect x="616" y="445" width="4" height="24" fill="#000"/>
<rect x="612.5" y="446.5" width="4" height="9" fill="#fff" stroke="#000" stroke-width="1"/>
<rect x="612.5" y="457.5" width="4" height="9" fill="#fff" stroke="#000" stroke-width="1"/>
<rect x="617" y="454" width="2" height="5" fill="#fff"/>
</svg>
</body></html>
